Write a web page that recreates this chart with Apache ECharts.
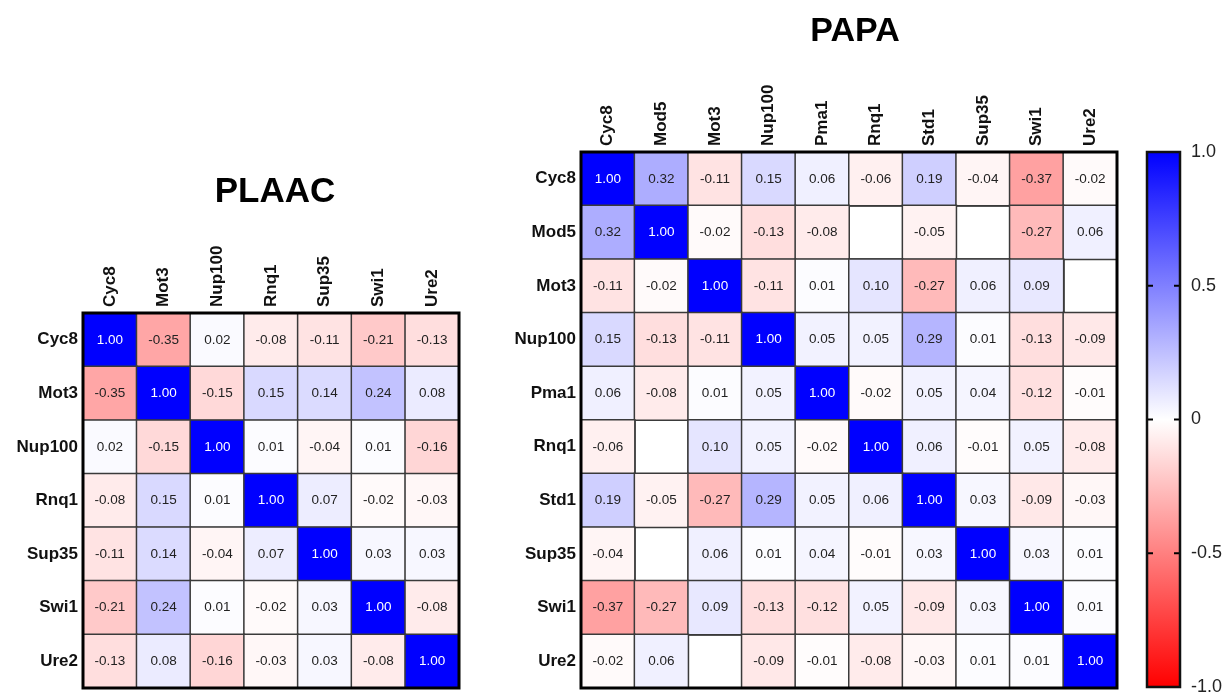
<!DOCTYPE html>
<html>
<head>
<meta charset="utf-8">
<title>PLAAC / PAPA correlation</title>
<script src="https://cdn.jsdelivr.net/npm/echarts@6/dist/echarts.min.js"></script>
<style>
  html, body { margin: 0; padding: 0; background: #fff; }
  #chart { width: 1228px; height: 696px; }
</style>
</head>
<body>
<div id="chart"></div>
<script>
// ---- data -------------------------------------------------------------
const plaacProteins = ['Cyc8', 'Mot3', 'Nup100', 'Rnq1', 'Sup35', 'Swi1', 'Ure2'];
const plaacMatrix = [
  [ 1.00, -0.35,  0.02, -0.08, -0.11, -0.21, -0.13],
  [-0.35,  1.00, -0.15,  0.15,  0.14,  0.24,  0.08],
  [ 0.02, -0.15,  1.00,  0.01, -0.04,  0.01, -0.16],
  [-0.08,  0.15,  0.01,  1.00,  0.07, -0.02, -0.03],
  [-0.11,  0.14, -0.04,  0.07,  1.00,  0.03,  0.03],
  [-0.21,  0.24,  0.01, -0.02,  0.03,  1.00, -0.08],
  [-0.13,  0.08, -0.16, -0.03,  0.03, -0.08,  1.00]
];

const papaProteins = ['Cyc8', 'Mod5', 'Mot3', 'Nup100', 'Pma1', 'Rnq1', 'Std1', 'Sup35', 'Swi1', 'Ure2'];
// null = no value for that pair
const papaMatrix = [
  [ 1.00,  0.32, -0.11,  0.15,  0.06, -0.06,  0.19, -0.04, -0.37, -0.02],
  [ 0.32,  1.00, -0.02, -0.13, -0.08,  null, -0.05,  null, -0.27,  0.06],
  [-0.11, -0.02,  1.00, -0.11,  0.01,  0.10, -0.27,  0.06,  0.09,  null],
  [ 0.15, -0.13, -0.11,  1.00,  0.05,  0.05,  0.29,  0.01, -0.13, -0.09],
  [ 0.06, -0.08,  0.01,  0.05,  1.00, -0.02,  0.05,  0.04, -0.12, -0.01],
  [-0.06,  null,  0.10,  0.05, -0.02,  1.00,  0.06, -0.01,  0.05, -0.08],
  [ 0.19, -0.05, -0.27,  0.29,  0.05,  0.06,  1.00,  0.03, -0.09, -0.03],
  [-0.04,  null,  0.06,  0.01,  0.04, -0.01,  0.03,  1.00,  0.03,  0.01],
  [-0.37, -0.27,  0.09, -0.13, -0.12,  0.05, -0.09,  0.03,  1.00,  0.01],
  [-0.02,  0.06,  null, -0.09, -0.01, -0.08, -0.03,  0.01,  0.01,  1.00]
];

const scaleMin = -1;
const scaleMax = 1;
const scaleStep = 0.5;
const scaleInnerTicks = [-0.5, 0, 0.5];
const scaleColors = ['#FF0000', '#FFFFFF', '#0000FF'];

// ---- helpers ----------------------------------------------------------
const FONT = '"Liberation Sans", Arial, Helvetica, sans-serif';

function toCells(matrix) {
  const cells = [];
  matrix.forEach((row, r) => {
    row.forEach((v, c) => {
      if (v === null) return;
      const item = { value: [c, r, v] };
      if (v >= 0.9) item.label = { color: '#FFFFFF' };
      cells.push(item);
    });
  });
  return cells;
}

function catX(gridIndex, names) {
  return {
    type: 'category', gridIndex, data: names, position: 'top',
    axisLine: { show: false }, axisTick: { show: false },
    splitLine: { show: true, lineStyle: { color: '#3a3a3a', width: 1.5 } },
    axisLabel: {
      rotate: -90, margin: 6, fontFamily: FONT, fontWeight: 'bold',
      fontSize: 17, color: '#111'
    }
  };
}
function catY(gridIndex, names) {
  return {
    type: 'category', gridIndex, data: names, inverse: true,
    axisLine: { show: false }, axisTick: { show: false },
    splitLine: { show: true, lineStyle: { color: '#3a3a3a', width: 1.5 } },
    axisLabel: {
      margin: 5, fontFamily: FONT, fontWeight: 'bold',
      fontSize: 17, color: '#111'
    }
  };
}
function heatSeries(idx, matrix) {
  return {
    type: 'heatmap', xAxisIndex: idx, yAxisIndex: idx,
    data: toCells(matrix),
    itemStyle: { borderColor: '#3a3a3a', borderWidth: 1.5 },
    label: {
      show: true, fontFamily: FONT, fontSize: 13.5, color: '#222',
      formatter: p => p.value[2].toFixed(2)
    },
    emphasis: { disabled: true }
  };
}

const gridFrame = { show: true, z: 10, borderColor: '#000', borderWidth: 3, backgroundColor: 'transparent' };

// colour bar gradient, top = max, bottom = min
const barStops = scaleColors.slice().reverse().map((c, i, a) => ({ offset: i / (a.length - 1), color: c }));

const chart = echarts.init(document.getElementById('chart'), null, { renderer: 'canvas' });
chart.setOption({
  animation: false,
  backgroundColor: '#FFFFFF',
  title: [
    { text: 'PLAAC', left: 270, top: 170, textAlign: 'center',
      textStyle: { fontFamily: FONT, fontWeight: 'bold', fontSize: 35, color: '#000' } },
    { text: 'PAPA', left: 850, top: 10, textAlign: 'center',
      textStyle: { fontFamily: FONT, fontWeight: 'bold', fontSize: 34, color: '#000' } }
  ],
  grid: [
    Object.assign({ left: 83, top: 313, width: 376, height: 375 }, gridFrame),
    Object.assign({ left: 581, top: 152, width: 536, height: 536 }, gridFrame),
    { show: true, z: 10, left: 1147, top: 152, width: 33, height: 536,
      borderColor: '#111', borderWidth: 2.5, backgroundColor: 'transparent' }
  ],
  xAxis: [
    catX(0, plaacProteins),
    catX(1, papaProteins),
    { type: 'value', gridIndex: 2, min: 0, max: 1, show: false }
  ],
  yAxis: [
    catY(0, plaacProteins),
    catY(1, papaProteins),
    {
      type: 'value', gridIndex: 2, min: scaleMin, max: scaleMax, interval: scaleStep,
      position: 'right',
      axisLine: { show: false }, splitLine: { show: false }, axisTick: { show: false },
      axisLabel: {
        margin: 11, fontFamily: FONT, fontSize: 18, color: '#222',
        formatter: v => (v === 0 ? '0' : v.toFixed(1))
      }
    }
  ],
  visualMap: {
    show: false, type: 'continuous', min: scaleMin, max: scaleMax,
    seriesIndex: [0, 1], dimension: 2,
    inRange: { color: scaleColors }
  },
  series: [
    heatSeries(0, plaacMatrix),
    heatSeries(1, papaMatrix),
    {
      // colour bar: gradient body plus short inner ticks on both edges
      type: 'custom', xAxisIndex: 2, yAxisIndex: 2, z: 2,
      data: [[0, 1, scaleMin, scaleMax]],
      renderItem: (params, api) => {
        const p0 = api.coord([api.value(0), api.value(3)]);
        const p1 = api.coord([api.value(1), api.value(2)]);
        const children = [{
          type: 'rect',
          shape: { x: p0[0], y: p0[1], width: p1[0] - p0[0], height: p1[1] - p0[1] },
          style: { fill: new echarts.graphic.LinearGradient(0, 0, 0, 1, barStops) }
        }];
        scaleInnerTicks.forEach(t => {
          const y = api.coord([0, t])[1];
          children.push({ type: 'line', shape: { x1: p0[0], y1: y, x2: p0[0] + 6, y2: y },
            style: { stroke: '#000', lineWidth: 2 } });
          children.push({ type: 'line', shape: { x1: p1[0] - 6, y1: y, x2: p1[0], y2: y },
            style: { stroke: '#000', lineWidth: 2 } });
        });
        return { type: 'group', children };
      },
      silent: true
    }
  ]
});
</script>
</body>
</html>
